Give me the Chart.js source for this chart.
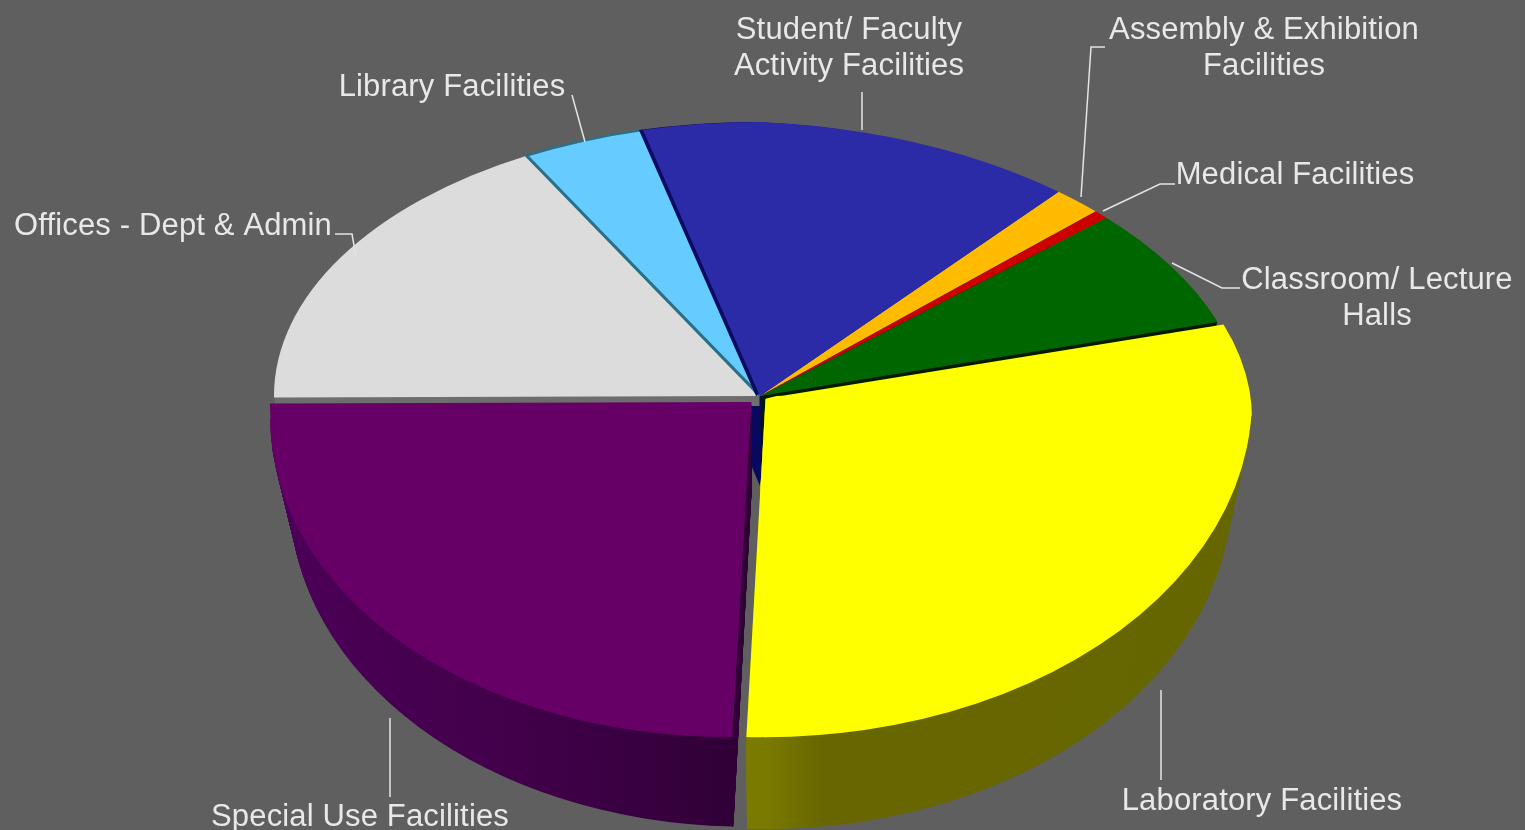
<!DOCTYPE html>
<html>
<head>
<meta charset="utf-8">
<title>Facilities by space type</title>
<script src="https://cdn.jsdelivr.net/npm/chart.js@4"></script>
<style>
  html, body { margin: 0; padding: 0; background: #5f5f5f; overflow: hidden; }
  canvas { display: block; }
</style>
</head>
<body>
<canvas id="pieChart" width="1525" height="830"></canvas>
<script>
// Data, clockwise from the yellow slice
const categories = [
  'Laboratory Facilities',
  'Special Use Facilities',
  'Offices - Dept & Admin',
  'Library Facilities',
  ['Student/ Faculty', 'Activity Facilities'],
  ['Assembly & Exhibition', 'Facilities'],
  'Medical Facilities',
  ['Classroom/ Lecture', 'Halls']
];
const shares = [31.1, 24.3, 17.1, 4.1, 14.4, 1.6, 0.5, 6.9];

// Slice styling
const topColors = ['#ffff00', '#660066', '#dcdcdc', '#66ccff', '#2b2ba8', '#ffbb00', '#cc0000', '#006600'];
const wallColors = ['#666600', '#3f0044', '#6e6e6e', '#2a6f88', '#0a0a60', '#8a6400', '#660000', '#001a00'];
const edgeColors = ['#ffff00', '#660066', '#dcdcdc', '#2a6f88', '#2b2ba8', '#ffbb00', '#cc0000', '#006600'];
const edgeWidths = [0, 0, 0, 3, 0, 0, 0, 0];
const explode = [22, 40, 0, 0, 0, 0, 0, 0];
const radiusTrim = [1, 0.99, 1, 1, 1, 1, 1, 1];
const wallDepths = [92, 90, 10, 0, 90, 0, 0, 90];
const sideShift = [0, 0, 0, 0, -4, 0, 0, 0];

// Back-to-front order for drawing
const wallOrder = [4, 7, 2, 1, 0];
const topOrder = [2, 3, 7, 6, 5, 4, 1, 0];
const PURPLE = 1;

// Pie geometry on the page
const PIE_X = 760, PIE_Y = 396;
const RX = 486, RY_UP = 274, RY_DOWN = 338;
const UPPER_RIGHT_SHEAR = 0.04;
const LOWER_LEFT_SHEAR = 0.03;
const WALL_DEPTH = 90;

// Label anchors (centre x, first baseline y) and leader paths, same order as categories
const labelSpots = [[1262, 810], [360, 826], [173, 235], [452, 96], [849, 39], [1264, 39], [1295, 184], [1377, 289]];
const leaders = [
  [[1161, 690], [1161, 780]],
  [[390, 718], [390, 797]],
  [[335, 234], [352, 234], [356, 257]],
  [[572, 95], [585, 142]],
  [[862, 92], [862, 130]],
  [[1105, 47], [1091, 47], [1081, 197]],
  [[1175, 184], [1160, 184], [1103, 211]],
  [[1240, 288], [1222, 288], [1172, 263]]
];
const LABEL_FONT = '31px "Liberation Sans"';
const LINE_HEIGHT = 36;

// Draws one arc element through an elliptical transform: the quarters of the pie
// get different scales and shears, which fakes the perspective of the original.
function drawSlice(chart, el, i, color, depth, shiftX) {
  const ctx = chart.ctx;
  const cx = (chart.chartArea.left + chart.chartArea.right) / 2;
  const cy = (chart.chartArea.top + chart.chartArea.bottom) / 2;
  const R = chart.getDatasetMeta(0).controller.outerRadius;
  const t = depth / WALL_DEPTH;
  const shrink = 1 - 0.04 * t;
  const seam = PIE_Y + depth;
  const ox = PIE_X + (shiftX || 0);
  const trim = radiusTrim[i];
  const sx = RX * shrink * trim / R;
  const lineEnd = seam + UPPER_RIGHT_SHEAR * (1525 - ox);
  const saved = el.options;
  if (color) el.options = Object.assign({}, saved, { backgroundColor: color, borderWidth: 0 });

  const piece = (clipPath, ry, shear) => {
    ctx.save();
    ctx.beginPath();
    clipPath();
    ctx.clip();
    ctx.translate(ox, seam);
    ctx.transform(1, shear, 0, 1, 0, 0);
    ctx.scale(sx, ry * trim / R);
    ctx.translate(-cx, -cy);
    el.draw(ctx);
    ctx.restore();
  };
  const lowerLeft = () => ctx.rect(0, seam, ox + 1, 830 - seam);

  // lower left: plain and sheared copies together keep the flat top edge of the purple slice
  piece(lowerLeft, RY_DOWN, 0);
  if (i === PURPLE) piece(lowerLeft, RY_DOWN, -LOWER_LEFT_SHEAR * (1 - 0.7 * t));
  // lower right, overlaps the upper right by a pixel so no hairline shows along the join
  piece(() => {
    ctx.moveTo(ox, seam - 1);
    ctx.lineTo(1525, lineEnd - 1);
    ctx.lineTo(1525, 830);
    ctx.lineTo(ox, 830);
    ctx.closePath();
  }, RY_DOWN, 0);
  // upper left
  piece(() => ctx.rect(0, 0, ox, seam), RY_UP, 0);
  // upper right
  piece(() => {
    ctx.moveTo(ox, 0);
    ctx.lineTo(1525, 0);
    ctx.lineTo(1525, lineEnd);
    ctx.lineTo(ox, seam);
    ctx.closePath();
  }, RY_UP, UPPER_RIGHT_SHEAR);

  el.options = saved;
}

const pie3d = {
  id: 'pie3d',
  beforeDatasetsDraw(chart) {
    const ctx = chart.ctx;
    const arcs = chart.getDatasetMeta(0).data;
    const R = chart.getDatasetMeta(0).controller.outerRadius;
    const cx = (chart.chartArea.left + chart.chartArea.right) / 2;

    // shaded walls
    const purpleWall = ctx.createLinearGradient(cx - R, 0, cx, 0);
    purpleWall.addColorStop(0, '#4c0058');
    purpleWall.addColorStop(0.5, '#42004a');
    purpleWall.addColorStop(1, '#2f0036');
    const yellowWall = ctx.createLinearGradient(cx, 0, cx + R, 0);
    yellowWall.addColorStop(0, '#7a7a00');
    yellowWall.addColorStop(0.12, '#686600');
    yellowWall.addColorStop(1, '#666600');

    wallOrder.forEach(i => {
      let fill = wallColors[i];
      if (i === 1) fill = purpleWall;
      if (i === 0) fill = yellowWall;
      for (let d = wallDepths[i]; d >= 1; d--) drawSlice(chart, arcs[i], i, fill, d);
    });
    topOrder.forEach(i => {
      if (sideShift[i]) drawSlice(chart, arcs[i], i, wallColors[i], 0, sideShift[i]);
      drawSlice(chart, arcs[i], i, null, 0);
    });

    // leader lines
    ctx.save();
    ctx.strokeStyle = '#e4e4e4';
    ctx.lineWidth = 1.5;
    leaders.forEach(path => {
      ctx.beginPath();
      path.forEach(([x, y], k) => (k ? ctx.lineTo(x, y) : ctx.moveTo(x, y)));
      ctx.stroke();
    });

    // labels
    ctx.font = LABEL_FONT;
    ctx.letterSpacing = '0.15px';
    ctx.fillStyle = '#e8e8e8';
    ctx.textAlign = 'center';
    ctx.textBaseline = 'alphabetic';
    chart.data.labels.forEach((label, i) => {
      const lines = Array.isArray(label) ? label : [label];
      lines.forEach((line, k) => {
        ctx.fillText(line, labelSpots[i][0], labelSpots[i][1] + k * LINE_HEIGHT);
      });
    });
    ctx.restore();
    return false;
  }
};

function initChart() {
  const ctx = document.getElementById('pieChart').getContext('2d');
  return new Chart(ctx, {
    type: 'pie',
    data: {
      labels: categories,
      datasets: [{
        data: shares,
        backgroundColor: topColors,
        borderColor: edgeColors,
        borderWidth: edgeWidths,
        offset: explode
      }]
    },
    options: {
      responsive: false,
      animation: false,
      rotation: 70.3,
      layout: { padding: 0 },
      plugins: {
        legend: { display: false },
        tooltip: { enabled: false }
      }
    },
    plugins: [pie3d]
  });
}

document.addEventListener('DOMContentLoaded', initChart);
</script>
</body>
</html>
